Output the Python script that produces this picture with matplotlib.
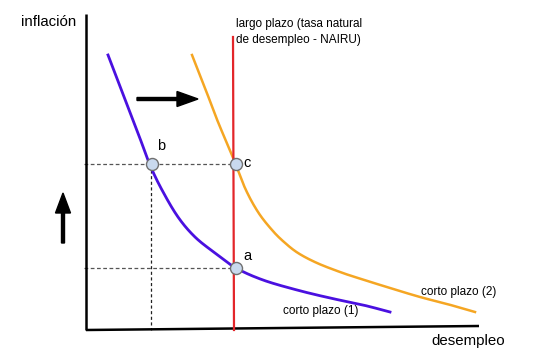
import numpy as np
from matplotlib import pyplot as plt

# Curvas (coordenadas en píxeles del dibujo original)
corto1_x = [108, 128, 138, 150, 162, 178, 195, 215, 236, 263, 297, 330, 363, 390]
corto1_y = [55, 107, 133, 165, 190, 217, 237, 253, 268, 280, 290, 298, 305, 312]

corto2_x = [192, 205, 218, 232, 245, 258, 272, 284, 298, 317, 340, 358, 390, 420, 447, 475]
corto2_y = [55, 88, 122, 155, 188, 212, 230, 242, 253, 263, 272, 278, 288, 297, 304, 312]

# Puntos de equilibrio
puntos_x = [152, 236, 236]
puntos_y = [164, 164, 268]

# Ejes y línea de largo plazo
eje_origen = (86, 330)
eje_y_tope = 14
eje_x_fin = (479, 326)
nairu_x = 233
nairu_tope = 37


def suavizar(xs, ys, n=20):
    # Catmull-Rom entre los puntos leídos, solo para que el trazo sea suave
    p = np.column_stack([xs, ys]).astype(float)
    p = np.vstack([2 * p[0] - p[1], p, 2 * p[-1] - p[-2]])
    t = np.linspace(0, 1, n, endpoint=False)[:, None]
    trozos = []
    for i in range(1, len(p) - 2):
        p0, p1, p2, p3 = p[i - 1], p[i], p[i + 1], p[i + 2]
        c = 0.5 * ((2 * p1) + (-p0 + p2) * t + (2 * p0 - 5 * p1 + 4 * p2 - p3) * t ** 2
                   + (-p0 + 3 * p1 - 3 * p2 + p3) * t ** 3)
        trozos.append(c)
    trozos.append(p[-2][None, :])
    c = np.vstack(trozos)
    return c[:, 0], c[:, 1]


fig = plt.figure(figsize=(5.41, 3.59), dpi=100)
ax = fig.add_axes([0, 0, 1, 1])
ax.set_xlim(0, 541)
ax.set_ylim(359, 0)
ax.axis("off")

fuente = "Liberation Sans"

# lineas punteadas de referencia
ax.plot([84, 236], [164, 164], color="#555555", lw=0.9, ls=(0, (3, 2)))
ax.plot([84, 236], [268, 268], color="#555555", lw=0.9, ls=(0, (3, 2)))
ax.plot([151, 151], [170, 330], color="#222222", lw=0.9, ls=(0, (2.5, 2)))

# ejes
ax.plot([eje_origen[0], eje_origen[0]], [eje_y_tope, eje_origen[1]], color="black", lw=1.8, solid_capstyle="butt")
ax.plot([eje_origen[0], eje_x_fin[0]], [eje_origen[1], eje_x_fin[1]], color="black", lw=1.8, solid_capstyle="butt")

# curvas
x2, y2 = suavizar(corto2_x, corto2_y)
ax.plot(x2, y2, color="#f5a623", lw=1.8)
x1, y1 = suavizar(corto1_x, corto1_y)
ax.plot(x1, y1, color="#4a10e0", lw=2.0)
ax.plot([nairu_x, nairu_x + 1], [nairu_tope, eje_origen[1]], color="#e3262a", lw=1.6)

# puntos
ax.scatter(puntos_x, puntos_y, s=75, facecolor="#c9d9ee", edgecolor="#707070", linewidth=1.0, zorder=5)
ax.text(157, 150, "b", fontsize=10.5, family=fuente)
ax.text(243, 163, "c", fontsize=10.5, family=fuente, va="center")
ax.text(243, 256, "a", fontsize=10.5, family=fuente, va="center")

# flechas
ax.arrow(137, 99, 61, 0, width=3, head_width=15, head_length=21,
         length_includes_head=True, color="black")
ax.arrow(63, 243, 0, -50, width=3, head_width=15, head_length=20,
         length_includes_head=True, color="black")

# textos
ax.text(21, 22, "inflación", fontsize=10.8, family=fuente, va="center")
ax.text(431, 341, "desempleo", fontsize=10.8, family=fuente, va="center")
ax.text(236, 24, "largo plazo (tasa natural", fontsize=8.5, family=fuente, va="center")
ax.text(236, 40, "de desempleo - NAIRU)", fontsize=8.5, family=fuente, va="center")
ax.text(421, 292, "corto plazo (2)", fontsize=8.5, family=fuente, va="center")
ax.text(283, 311, "corto plazo (1)", fontsize=8.5, family=fuente, va="center")

plt.savefig("out.png", dpi=100)
